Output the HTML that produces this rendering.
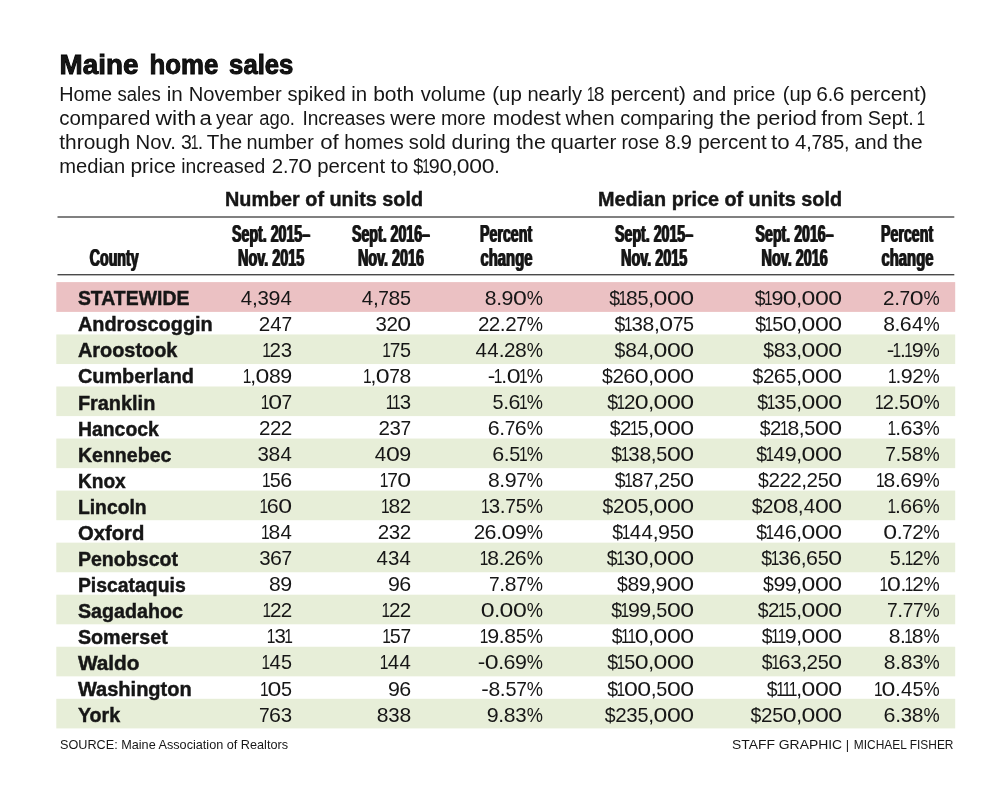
<!DOCTYPE html>
<html lang="en">
<head>
<meta charset="utf-8">
<title>Maine home sales</title>
<style>
html,body{margin:0;padding:0;background:#fff;}
body{width:1000px;height:797px;overflow:hidden;}
svg{display:block;}
svg text{font-family:"Liberation Sans",sans-serif;fill:#161616;white-space:pre;}
</style>
</head>
<body>
<svg width="1000" height="797" viewBox="0 0 1000 797" role="img" aria-label="Maine home sales table">
<defs><filter id="hb" x="-5%" y="-20%" width="110%" height="140%"><feOffset in="SourceGraphic" dx="0.5" dy="0" result="o"/><feMerge><feMergeNode in="SourceGraphic"/><feMergeNode in="o"/></feMerge></filter></defs>
<rect x="0" y="0" width="1000" height="797" fill="#ffffff"/>
<rect x="56.3" y="282.1" width="898.90" height="29.8" fill="#ebc1c3"/>
<rect x="56.3" y="334.45" width="898.90" height="29.6" fill="#e7eed8"/>
<rect x="56.3" y="386.5" width="898.90" height="29.6" fill="#e7eed8"/>
<rect x="56.3" y="438.55" width="898.90" height="29.6" fill="#e7eed8"/>
<rect x="56.3" y="490.6" width="898.90" height="29.6" fill="#e7eed8"/>
<rect x="56.3" y="542.65" width="898.90" height="29.6" fill="#e7eed8"/>
<rect x="56.3" y="594.7" width="898.90" height="29.6" fill="#e7eed8"/>
<rect x="56.3" y="646.75" width="898.90" height="29.6" fill="#e7eed8"/>
<rect x="56.3" y="698.8" width="898.90" height="29.6" fill="#e7eed8"/>
<rect x="57.5" y="216.3" width="896.80" height="1.4" fill="#4a4a4a"/>
<rect x="57.5" y="274" width="896.80" height="1.4" fill="#4a4a4a"/>
<text y="74.40" font-size="27" font-weight="700" fill="#000" stroke="#000" stroke-width="0.9"><tspan x="59.60" textLength="78.80" lengthAdjust="spacingAndGlyphs">Maine</tspan> <tspan x="149.60" textLength="68.80" lengthAdjust="spacingAndGlyphs">home</tspan> <tspan x="229.10" textLength="64.30" lengthAdjust="spacingAndGlyphs">sales</tspan></text>
<text y="101.30" font-size="19.6"><tspan x="59.20" textLength="52.90" lengthAdjust="spacingAndGlyphs">Home</tspan> <tspan x="117.50" textLength="43.30" lengthAdjust="spacingAndGlyphs">sales</tspan> <tspan x="166.70" textLength="16.10" lengthAdjust="spacingAndGlyphs">in</tspan> <tspan x="188.70" textLength="93.10" lengthAdjust="spacingAndGlyphs">November</tspan> <tspan x="287.50" textLength="58.30" lengthAdjust="spacingAndGlyphs">spiked</tspan> <tspan x="351.20" textLength="15.90" lengthAdjust="spacingAndGlyphs">in</tspan> <tspan x="373.20" textLength="40.90" lengthAdjust="spacingAndGlyphs">both</tspan> <tspan x="420.70" textLength="65.10" lengthAdjust="spacingAndGlyphs">volume</tspan> <tspan x="492.20" textLength="29.60" lengthAdjust="spacingAndGlyphs">(up</tspan> <tspan x="527.40" textLength="54.70" lengthAdjust="spacingAndGlyphs">nearly</tspan> <tspan x="586.90" textLength="7.47" lengthAdjust="spacingAndGlyphs">1</tspan><tspan x="593.65" textLength="10.74" lengthAdjust="spacingAndGlyphs">8</tspan> <tspan x="610.50" textLength="75.30" lengthAdjust="spacingAndGlyphs">percent)</tspan> <tspan x="692.50" textLength="33.60" lengthAdjust="spacingAndGlyphs">and</tspan> <tspan x="733.00" textLength="42.30" lengthAdjust="spacingAndGlyphs">price</tspan> <tspan x="782.70" textLength="29.10" lengthAdjust="spacingAndGlyphs">(up</tspan> <tspan x="816.29" textLength="11.64" lengthAdjust="spacingAndGlyphs">6</tspan><tspan x="827.73" textLength="5.45" lengthAdjust="spacingAndGlyphs">.</tspan><tspan x="832.83" textLength="11.64" lengthAdjust="spacingAndGlyphs">6</tspan> <tspan x="850.00" textLength="76.80" lengthAdjust="spacingAndGlyphs">percent)</tspan></text>
<text y="124.90" font-size="19.6"><tspan x="59.20" textLength="91.10" lengthAdjust="spacingAndGlyphs">compared</tspan> <tspan x="155.50" textLength="40.90" lengthAdjust="spacingAndGlyphs">with</tspan> <tspan x="199.50" textLength="12.30" lengthAdjust="spacingAndGlyphs">a</tspan> <tspan x="216.00" textLength="37.10" lengthAdjust="spacingAndGlyphs">year</tspan> <tspan x="259.20" textLength="35.80" lengthAdjust="spacingAndGlyphs">ago.</tspan> <tspan x="302.40" textLength="82.80" lengthAdjust="spacingAndGlyphs">Increases</tspan> <tspan x="390.20" textLength="45.80" lengthAdjust="spacingAndGlyphs">were</tspan> <tspan x="441.00" textLength="44.80" lengthAdjust="spacingAndGlyphs">more</tspan> <tspan x="492.70" textLength="68.10" lengthAdjust="spacingAndGlyphs">modest</tspan> <tspan x="565.50" textLength="49.10" lengthAdjust="spacingAndGlyphs">when</tspan> <tspan x="620.20" textLength="93.60" lengthAdjust="spacingAndGlyphs">comparing</tspan> <tspan x="719.50" textLength="31.30" lengthAdjust="spacingAndGlyphs">the</tspan> <tspan x="756.20" textLength="60.60" lengthAdjust="spacingAndGlyphs">period</tspan> <tspan x="821.20" textLength="41.60" lengthAdjust="spacingAndGlyphs">from</tspan> <tspan x="867.70" textLength="46.10" lengthAdjust="spacingAndGlyphs">Sept.</tspan> <tspan x="916.78" textLength="8.32" lengthAdjust="spacingAndGlyphs">1</tspan></text>
<text y="148.80" font-size="19.6"><tspan x="59.20" textLength="71.10" lengthAdjust="spacingAndGlyphs">through</tspan> <tspan x="135.50" textLength="40.30" lengthAdjust="spacingAndGlyphs">Nov.</tspan> <tspan x="181.11" textLength="10.86" lengthAdjust="spacingAndGlyphs">3</tspan><tspan x="190.82" textLength="7.75" lengthAdjust="spacingAndGlyphs">1</tspan><tspan x="197.83" textLength="5.45" lengthAdjust="spacingAndGlyphs">.</tspan> <tspan x="206.70" textLength="35.40" lengthAdjust="spacingAndGlyphs">The</tspan> <tspan x="246.40" textLength="67.40" lengthAdjust="spacingAndGlyphs">number</tspan> <tspan x="320.20" textLength="18.60" lengthAdjust="spacingAndGlyphs">of</tspan> <tspan x="344.20" textLength="59.60" lengthAdjust="spacingAndGlyphs">homes</tspan> <tspan x="408.80" textLength="37.00" lengthAdjust="spacingAndGlyphs">sold</tspan> <tspan x="451.60" textLength="59.00" lengthAdjust="spacingAndGlyphs">during</tspan> <tspan x="516.20" textLength="29.60" lengthAdjust="spacingAndGlyphs">the</tspan> <tspan x="550.80" textLength="65.60" lengthAdjust="spacingAndGlyphs">quarter</tspan> <tspan x="621.40" textLength="37.80" lengthAdjust="spacingAndGlyphs">rose</tspan> <tspan x="664.99" textLength="10.97" lengthAdjust="spacingAndGlyphs">8</tspan><tspan x="675.73" textLength="5.45" lengthAdjust="spacingAndGlyphs">.</tspan><tspan x="680.86" textLength="11.14" lengthAdjust="spacingAndGlyphs">9</tspan> <tspan x="698.20" textLength="68.60" lengthAdjust="spacingAndGlyphs">percent</tspan> <tspan x="771.00" textLength="18.60" lengthAdjust="spacingAndGlyphs">to</tspan> <tspan x="794.98" textLength="11.30" lengthAdjust="spacingAndGlyphs">4</tspan><tspan x="806.35" textLength="5.45" lengthAdjust="spacingAndGlyphs">,</tspan><tspan x="811.48" textLength="10.58" lengthAdjust="spacingAndGlyphs">7</tspan><tspan x="821.69" textLength="11.66" lengthAdjust="spacingAndGlyphs">8</tspan><tspan x="833.15" textLength="10.96" lengthAdjust="spacingAndGlyphs">5</tspan><tspan x="843.94" textLength="5.45" lengthAdjust="spacingAndGlyphs">,</tspan> <tspan x="854.50" textLength="33.30" lengthAdjust="spacingAndGlyphs">and</tspan> <tspan x="893.00" textLength="29.80" lengthAdjust="spacingAndGlyphs">the</tspan></text>
<text y="172.80" font-size="19.6"><tspan x="59.20" textLength="66.10" lengthAdjust="spacingAndGlyphs">median</tspan> <tspan x="130.50" textLength="45.30" lengthAdjust="spacingAndGlyphs">price</tspan> <tspan x="181.20" textLength="84.00" lengthAdjust="spacingAndGlyphs">increased</tspan> <tspan x="271.82" textLength="11.38" lengthAdjust="spacingAndGlyphs">2</tspan><tspan x="282.92" textLength="5.45" lengthAdjust="spacingAndGlyphs">.</tspan><tspan x="288.15" textLength="10.55" lengthAdjust="spacingAndGlyphs">7</tspan><tspan x="298.29" textLength="13.73" lengthAdjust="spacingAndGlyphs">0</tspan> <tspan x="317.20" textLength="67.90" lengthAdjust="spacingAndGlyphs">percent</tspan> <tspan x="390.50" textLength="17.80" lengthAdjust="spacingAndGlyphs">to</tspan> <tspan x="413.16" textLength="10.03" lengthAdjust="spacingAndGlyphs">$</tspan><tspan x="422.14" textLength="7.50" lengthAdjust="spacingAndGlyphs">1</tspan><tspan x="428.83" textLength="10.96" lengthAdjust="spacingAndGlyphs">9</tspan><tspan x="439.46" textLength="12.75" lengthAdjust="spacingAndGlyphs">0</tspan><tspan x="451.81" textLength="5.45" lengthAdjust="spacingAndGlyphs">,</tspan><tspan x="456.85" textLength="12.75" lengthAdjust="spacingAndGlyphs">0</tspan><tspan x="469.31" textLength="12.75" lengthAdjust="spacingAndGlyphs">0</tspan><tspan x="481.78" textLength="12.75" lengthAdjust="spacingAndGlyphs">0</tspan><tspan x="494.22" textLength="5.45" lengthAdjust="spacingAndGlyphs">.</tspan></text>
<text x="324.00" y="206.20" font-size="20.6" font-weight="700" text-anchor="middle" stroke="#161616" stroke-width="0.45" textLength="198.00" lengthAdjust="spacingAndGlyphs">Number of units sold</text>
<text x="720.00" y="206.20" font-size="20.6" font-weight="700" text-anchor="middle" stroke="#161616" stroke-width="0.45" textLength="244.00" lengthAdjust="spacingAndGlyphs">Median price of units sold</text>
<text x="113.70" y="265.70" font-size="23.2" font-weight="700" text-anchor="middle" stroke="#161616" stroke-width="0.2" filter="url(#hb)" textLength="48.82" lengthAdjust="spacingAndGlyphs">County</text>
<text x="270.60" y="242.20" font-size="23.2" font-weight="700" text-anchor="middle" stroke="#161616" stroke-width="0.2" filter="url(#hb)" textLength="78.02" lengthAdjust="spacingAndGlyphs">Sept. 2015–</text>
<text x="270.60" y="265.70" font-size="23.2" font-weight="700" text-anchor="middle" stroke="#161616" stroke-width="0.2" filter="url(#hb)" textLength="66.20" lengthAdjust="spacingAndGlyphs">Nov. 2015</text>
<text x="390.50" y="242.20" font-size="23.2" font-weight="700" text-anchor="middle" stroke="#161616" stroke-width="0.2" filter="url(#hb)" textLength="78.02" lengthAdjust="spacingAndGlyphs">Sept. 2016–</text>
<text x="390.50" y="265.70" font-size="23.2" font-weight="700" text-anchor="middle" stroke="#161616" stroke-width="0.2" filter="url(#hb)" textLength="66.20" lengthAdjust="spacingAndGlyphs">Nov. 2016</text>
<text x="505.60" y="242.20" font-size="23.2" font-weight="700" text-anchor="middle" stroke="#161616" stroke-width="0.2" filter="url(#hb)" textLength="52.01" lengthAdjust="spacingAndGlyphs">Percent</text>
<text x="506.00" y="265.70" font-size="23.2" font-weight="700" text-anchor="middle" stroke="#161616" stroke-width="0.2" filter="url(#hb)" textLength="51.87" lengthAdjust="spacingAndGlyphs">change</text>
<text x="653.60" y="242.20" font-size="23.2" font-weight="700" text-anchor="middle" stroke="#161616" stroke-width="0.2" filter="url(#hb)" textLength="78.02" lengthAdjust="spacingAndGlyphs">Sept. 2015–</text>
<text x="653.60" y="265.70" font-size="23.2" font-weight="700" text-anchor="middle" stroke="#161616" stroke-width="0.2" filter="url(#hb)" textLength="66.20" lengthAdjust="spacingAndGlyphs">Nov. 2015</text>
<text x="794.10" y="242.20" font-size="23.2" font-weight="700" text-anchor="middle" stroke="#161616" stroke-width="0.2" filter="url(#hb)" textLength="78.02" lengthAdjust="spacingAndGlyphs">Sept. 2016–</text>
<text x="794.10" y="265.70" font-size="23.2" font-weight="700" text-anchor="middle" stroke="#161616" stroke-width="0.2" filter="url(#hb)" textLength="66.20" lengthAdjust="spacingAndGlyphs">Nov. 2016</text>
<text x="906.60" y="242.20" font-size="23.2" font-weight="700" text-anchor="middle" stroke="#161616" stroke-width="0.2" filter="url(#hb)" textLength="52.01" lengthAdjust="spacingAndGlyphs">Percent</text>
<text x="907.00" y="265.70" font-size="23.2" font-weight="700" text-anchor="middle" stroke="#161616" stroke-width="0.2" filter="url(#hb)" textLength="51.87" lengthAdjust="spacingAndGlyphs">change</text>
<text x="77.90" y="305.30" font-size="20.8" font-weight="700" stroke="#161616" stroke-width="0.45" textLength="111.50" lengthAdjust="spacingAndGlyphs">STATEWIDE</text>
<text y="304.60" font-size="21.0"><tspan x="240.78" textLength="11.37" lengthAdjust="spacingAndGlyphs">4</tspan><tspan x="252.03" textLength="5.83" lengthAdjust="spacingAndGlyphs">,</tspan><tspan x="257.57" textLength="11.38" lengthAdjust="spacingAndGlyphs">3</tspan><tspan x="268.55" textLength="11.92" lengthAdjust="spacingAndGlyphs">9</tspan><tspan x="280.48" textLength="11.37" lengthAdjust="spacingAndGlyphs">4</tspan></text>
<text y="304.60" font-size="21.0"><tspan x="361.68" textLength="11.37" lengthAdjust="spacingAndGlyphs">4</tspan><tspan x="372.93" textLength="5.83" lengthAdjust="spacingAndGlyphs">,</tspan><tspan x="378.27" textLength="10.64" lengthAdjust="spacingAndGlyphs">7</tspan><tspan x="388.53" textLength="11.73" lengthAdjust="spacingAndGlyphs">8</tspan><tspan x="400.06" textLength="11.03" lengthAdjust="spacingAndGlyphs">5</tspan></text>
<text y="304.60" font-size="21.0"><tspan x="484.73" textLength="11.73" lengthAdjust="spacingAndGlyphs">8</tspan><tspan x="496.13" textLength="5.83" lengthAdjust="spacingAndGlyphs">.</tspan><tspan x="501.55" textLength="11.92" lengthAdjust="spacingAndGlyphs">9</tspan><tspan x="512.98" textLength="13.84" lengthAdjust="spacingAndGlyphs">0</tspan><tspan x="526.70" textLength="16.20" lengthAdjust="spacingAndGlyphs">%</tspan></text>
<text y="304.60" font-size="21.0"><tspan x="609.14" textLength="10.82" lengthAdjust="spacingAndGlyphs">$</tspan><tspan x="618.52" textLength="8.64" lengthAdjust="spacingAndGlyphs">1</tspan><tspan x="626.03" textLength="11.73" lengthAdjust="spacingAndGlyphs">8</tspan><tspan x="637.56" textLength="11.03" lengthAdjust="spacingAndGlyphs">5</tspan><tspan x="648.23" textLength="5.83" lengthAdjust="spacingAndGlyphs">,</tspan><tspan x="653.58" textLength="13.84" lengthAdjust="spacingAndGlyphs">0</tspan><tspan x="666.98" textLength="13.84" lengthAdjust="spacingAndGlyphs">0</tspan><tspan x="680.38" textLength="13.84" lengthAdjust="spacingAndGlyphs">0</tspan></text>
<text y="304.60" font-size="21.0"><tspan x="754.64" textLength="10.82" lengthAdjust="spacingAndGlyphs">$</tspan><tspan x="764.02" textLength="8.64" lengthAdjust="spacingAndGlyphs">1</tspan><tspan x="771.45" textLength="11.92" lengthAdjust="spacingAndGlyphs">9</tspan><tspan x="782.88" textLength="13.84" lengthAdjust="spacingAndGlyphs">0</tspan><tspan x="796.23" textLength="5.83" lengthAdjust="spacingAndGlyphs">,</tspan><tspan x="801.58" textLength="13.84" lengthAdjust="spacingAndGlyphs">0</tspan><tspan x="814.98" textLength="13.84" lengthAdjust="spacingAndGlyphs">0</tspan><tspan x="828.38" textLength="13.84" lengthAdjust="spacingAndGlyphs">0</tspan></text>
<text y="304.60" font-size="21.0"><tspan x="883.11" textLength="11.48" lengthAdjust="spacingAndGlyphs">2</tspan><tspan x="894.13" textLength="5.83" lengthAdjust="spacingAndGlyphs">.</tspan><tspan x="899.57" textLength="10.64" lengthAdjust="spacingAndGlyphs">7</tspan><tspan x="909.78" textLength="13.84" lengthAdjust="spacingAndGlyphs">0</tspan><tspan x="923.50" textLength="16.20" lengthAdjust="spacingAndGlyphs">%</tspan></text>
<text x="77.90" y="331.30" font-size="20.8" font-weight="700" stroke="#161616" stroke-width="0.45" textLength="134.88" lengthAdjust="spacingAndGlyphs">Androscoggin</text>
<text y="330.60" font-size="21.0"><tspan x="258.81" textLength="11.48" lengthAdjust="spacingAndGlyphs">2</tspan><tspan x="270.28" textLength="11.37" lengthAdjust="spacingAndGlyphs">4</tspan><tspan x="281.57" textLength="10.64" lengthAdjust="spacingAndGlyphs">7</tspan></text>
<text y="330.60" font-size="21.0"><tspan x="375.47" textLength="11.38" lengthAdjust="spacingAndGlyphs">3</tspan><tspan x="386.41" textLength="11.48" lengthAdjust="spacingAndGlyphs">2</tspan><tspan x="397.38" textLength="13.84" lengthAdjust="spacingAndGlyphs">0</tspan></text>
<text y="330.60" font-size="21.0"><tspan x="477.91" textLength="11.48" lengthAdjust="spacingAndGlyphs">2</tspan><tspan x="488.81" textLength="11.48" lengthAdjust="spacingAndGlyphs">2</tspan><tspan x="499.83" textLength="5.83" lengthAdjust="spacingAndGlyphs">.</tspan><tspan x="505.21" textLength="11.48" lengthAdjust="spacingAndGlyphs">2</tspan><tspan x="516.17" textLength="10.64" lengthAdjust="spacingAndGlyphs">7</tspan><tspan x="526.70" textLength="16.20" lengthAdjust="spacingAndGlyphs">%</tspan></text>
<text y="330.60" font-size="21.0"><tspan x="614.54" textLength="10.82" lengthAdjust="spacingAndGlyphs">$</tspan><tspan x="623.92" textLength="8.64" lengthAdjust="spacingAndGlyphs">1</tspan><tspan x="631.57" textLength="11.38" lengthAdjust="spacingAndGlyphs">3</tspan><tspan x="642.63" textLength="11.73" lengthAdjust="spacingAndGlyphs">8</tspan><tspan x="653.93" textLength="5.83" lengthAdjust="spacingAndGlyphs">,</tspan><tspan x="659.28" textLength="13.84" lengthAdjust="spacingAndGlyphs">0</tspan><tspan x="672.67" textLength="10.64" lengthAdjust="spacingAndGlyphs">7</tspan><tspan x="683.06" textLength="11.03" lengthAdjust="spacingAndGlyphs">5</tspan></text>
<text y="330.60" font-size="21.0"><tspan x="755.14" textLength="10.82" lengthAdjust="spacingAndGlyphs">$</tspan><tspan x="764.52" textLength="8.64" lengthAdjust="spacingAndGlyphs">1</tspan><tspan x="772.16" textLength="11.03" lengthAdjust="spacingAndGlyphs">5</tspan><tspan x="782.88" textLength="13.84" lengthAdjust="spacingAndGlyphs">0</tspan><tspan x="796.23" textLength="5.83" lengthAdjust="spacingAndGlyphs">,</tspan><tspan x="801.58" textLength="13.84" lengthAdjust="spacingAndGlyphs">0</tspan><tspan x="814.98" textLength="13.84" lengthAdjust="spacingAndGlyphs">0</tspan><tspan x="828.38" textLength="13.84" lengthAdjust="spacingAndGlyphs">0</tspan></text>
<text y="330.60" font-size="21.0"><tspan x="883.13" textLength="11.73" lengthAdjust="spacingAndGlyphs">8</tspan><tspan x="894.53" textLength="5.83" lengthAdjust="spacingAndGlyphs">.</tspan><tspan x="899.86" textLength="11.93" lengthAdjust="spacingAndGlyphs">6</tspan><tspan x="911.88" textLength="11.37" lengthAdjust="spacingAndGlyphs">4</tspan><tspan x="923.50" textLength="16.20" lengthAdjust="spacingAndGlyphs">%</tspan></text>
<text x="77.90" y="357.37" font-size="20.8" font-weight="700" stroke="#161616" stroke-width="0.45" textLength="99.51" lengthAdjust="spacingAndGlyphs">Aroostook</text>
<text y="356.67" font-size="21.0"><tspan x="262.22" textLength="8.64" lengthAdjust="spacingAndGlyphs">1</tspan><tspan x="269.61" textLength="11.48" lengthAdjust="spacingAndGlyphs">2</tspan><tspan x="280.77" textLength="11.38" lengthAdjust="spacingAndGlyphs">3</tspan></text>
<text y="356.67" font-size="21.0"><tspan x="382.22" textLength="8.64" lengthAdjust="spacingAndGlyphs">1</tspan><tspan x="389.67" textLength="10.64" lengthAdjust="spacingAndGlyphs">7</tspan><tspan x="400.06" textLength="11.03" lengthAdjust="spacingAndGlyphs">5</tspan></text>
<text y="356.67" font-size="21.0"><tspan x="475.48" textLength="11.37" lengthAdjust="spacingAndGlyphs">4</tspan><tspan x="487.28" textLength="11.37" lengthAdjust="spacingAndGlyphs">4</tspan><tspan x="498.63" textLength="5.83" lengthAdjust="spacingAndGlyphs">.</tspan><tspan x="504.01" textLength="11.48" lengthAdjust="spacingAndGlyphs">2</tspan><tspan x="515.03" textLength="11.73" lengthAdjust="spacingAndGlyphs">8</tspan><tspan x="526.70" textLength="16.20" lengthAdjust="spacingAndGlyphs">%</tspan></text>
<text y="356.67" font-size="21.0"><tspan x="614.54" textLength="10.82" lengthAdjust="spacingAndGlyphs">$</tspan><tspan x="625.13" textLength="11.73" lengthAdjust="spacingAndGlyphs">8</tspan><tspan x="636.98" textLength="11.37" lengthAdjust="spacingAndGlyphs">4</tspan><tspan x="648.23" textLength="5.83" lengthAdjust="spacingAndGlyphs">,</tspan><tspan x="653.58" textLength="13.84" lengthAdjust="spacingAndGlyphs">0</tspan><tspan x="666.98" textLength="13.84" lengthAdjust="spacingAndGlyphs">0</tspan><tspan x="680.38" textLength="13.84" lengthAdjust="spacingAndGlyphs">0</tspan></text>
<text y="356.67" font-size="21.0"><tspan x="763.14" textLength="10.82" lengthAdjust="spacingAndGlyphs">$</tspan><tspan x="773.73" textLength="11.73" lengthAdjust="spacingAndGlyphs">8</tspan><tspan x="785.27" textLength="11.38" lengthAdjust="spacingAndGlyphs">3</tspan><tspan x="796.23" textLength="5.83" lengthAdjust="spacingAndGlyphs">,</tspan><tspan x="801.58" textLength="13.84" lengthAdjust="spacingAndGlyphs">0</tspan><tspan x="814.98" textLength="13.84" lengthAdjust="spacingAndGlyphs">0</tspan><tspan x="828.38" textLength="13.84" lengthAdjust="spacingAndGlyphs">0</tspan></text>
<text y="356.67" font-size="21.0"><tspan x="886.65" textLength="7.50" lengthAdjust="spacingAndGlyphs">-</tspan><tspan x="892.52" textLength="8.64" lengthAdjust="spacingAndGlyphs">1</tspan><tspan x="900.03" textLength="5.83" lengthAdjust="spacingAndGlyphs">.</tspan><tspan x="904.32" textLength="8.64" lengthAdjust="spacingAndGlyphs">1</tspan><tspan x="911.75" textLength="11.92" lengthAdjust="spacingAndGlyphs">9</tspan><tspan x="923.50" textLength="16.20" lengthAdjust="spacingAndGlyphs">%</tspan></text>
<text x="77.90" y="383.43" font-size="20.8" font-weight="700" stroke="#161616" stroke-width="0.45" textLength="116.11" lengthAdjust="spacingAndGlyphs">Cumberland</text>
<text y="382.73" font-size="21.0"><tspan x="242.82" textLength="8.64" lengthAdjust="spacingAndGlyphs">1</tspan><tspan x="250.23" textLength="5.83" lengthAdjust="spacingAndGlyphs">,</tspan><tspan x="255.58" textLength="13.84" lengthAdjust="spacingAndGlyphs">0</tspan><tspan x="269.03" textLength="11.73" lengthAdjust="spacingAndGlyphs">8</tspan><tspan x="280.35" textLength="11.92" lengthAdjust="spacingAndGlyphs">9</tspan></text>
<text y="382.73" font-size="21.0"><tspan x="363.02" textLength="8.64" lengthAdjust="spacingAndGlyphs">1</tspan><tspan x="370.43" textLength="5.83" lengthAdjust="spacingAndGlyphs">,</tspan><tspan x="375.78" textLength="13.84" lengthAdjust="spacingAndGlyphs">0</tspan><tspan x="389.17" textLength="10.64" lengthAdjust="spacingAndGlyphs">7</tspan><tspan x="399.43" textLength="11.73" lengthAdjust="spacingAndGlyphs">8</tspan></text>
<text y="382.73" font-size="21.0"><tspan x="487.85" textLength="7.50" lengthAdjust="spacingAndGlyphs">-</tspan><tspan x="493.72" textLength="8.64" lengthAdjust="spacingAndGlyphs">1</tspan><tspan x="501.23" textLength="5.83" lengthAdjust="spacingAndGlyphs">.</tspan><tspan x="506.68" textLength="13.84" lengthAdjust="spacingAndGlyphs">0</tspan><tspan x="518.92" textLength="8.64" lengthAdjust="spacingAndGlyphs">1</tspan><tspan x="526.70" textLength="16.20" lengthAdjust="spacingAndGlyphs">%</tspan></text>
<text y="382.73" font-size="21.0"><tspan x="602.04" textLength="10.82" lengthAdjust="spacingAndGlyphs">$</tspan><tspan x="612.51" textLength="11.48" lengthAdjust="spacingAndGlyphs">2</tspan><tspan x="623.36" textLength="11.93" lengthAdjust="spacingAndGlyphs">6</tspan><tspan x="634.88" textLength="13.84" lengthAdjust="spacingAndGlyphs">0</tspan><tspan x="648.23" textLength="5.83" lengthAdjust="spacingAndGlyphs">,</tspan><tspan x="653.58" textLength="13.84" lengthAdjust="spacingAndGlyphs">0</tspan><tspan x="666.98" textLength="13.84" lengthAdjust="spacingAndGlyphs">0</tspan><tspan x="680.38" textLength="13.84" lengthAdjust="spacingAndGlyphs">0</tspan></text>
<text y="382.73" font-size="21.0"><tspan x="752.54" textLength="10.82" lengthAdjust="spacingAndGlyphs">$</tspan><tspan x="763.01" textLength="11.48" lengthAdjust="spacingAndGlyphs">2</tspan><tspan x="773.86" textLength="11.93" lengthAdjust="spacingAndGlyphs">6</tspan><tspan x="785.56" textLength="11.03" lengthAdjust="spacingAndGlyphs">5</tspan><tspan x="796.23" textLength="5.83" lengthAdjust="spacingAndGlyphs">,</tspan><tspan x="801.58" textLength="13.84" lengthAdjust="spacingAndGlyphs">0</tspan><tspan x="814.98" textLength="13.84" lengthAdjust="spacingAndGlyphs">0</tspan><tspan x="828.38" textLength="13.84" lengthAdjust="spacingAndGlyphs">0</tspan></text>
<text y="382.73" font-size="21.0"><tspan x="887.92" textLength="8.64" lengthAdjust="spacingAndGlyphs">1</tspan><tspan x="895.43" textLength="5.83" lengthAdjust="spacingAndGlyphs">.</tspan><tspan x="900.85" textLength="11.92" lengthAdjust="spacingAndGlyphs">9</tspan><tspan x="912.21" textLength="11.48" lengthAdjust="spacingAndGlyphs">2</tspan><tspan x="923.50" textLength="16.20" lengthAdjust="spacingAndGlyphs">%</tspan></text>
<text x="77.90" y="409.50" font-size="20.8" font-weight="700" stroke="#161616" stroke-width="0.45" textLength="77.41" lengthAdjust="spacingAndGlyphs">Franklin</text>
<text y="408.80" font-size="21.0"><tspan x="260.72" textLength="8.64" lengthAdjust="spacingAndGlyphs">1</tspan><tspan x="268.18" textLength="13.84" lengthAdjust="spacingAndGlyphs">0</tspan><tspan x="281.57" textLength="10.64" lengthAdjust="spacingAndGlyphs">7</tspan></text>
<text y="408.80" font-size="21.0"><tspan x="385.82" textLength="8.64" lengthAdjust="spacingAndGlyphs">1</tspan><tspan x="392.12" textLength="8.64" lengthAdjust="spacingAndGlyphs">1</tspan><tspan x="399.77" textLength="11.38" lengthAdjust="spacingAndGlyphs">3</tspan></text>
<text y="408.80" font-size="21.0"><tspan x="492.46" textLength="11.03" lengthAdjust="spacingAndGlyphs">5</tspan><tspan x="503.23" textLength="5.83" lengthAdjust="spacingAndGlyphs">.</tspan><tspan x="508.56" textLength="11.93" lengthAdjust="spacingAndGlyphs">6</tspan><tspan x="518.92" textLength="8.64" lengthAdjust="spacingAndGlyphs">1</tspan><tspan x="526.70" textLength="16.20" lengthAdjust="spacingAndGlyphs">%</tspan></text>
<text y="408.80" font-size="21.0"><tspan x="607.14" textLength="10.82" lengthAdjust="spacingAndGlyphs">$</tspan><tspan x="616.52" textLength="8.64" lengthAdjust="spacingAndGlyphs">1</tspan><tspan x="623.91" textLength="11.48" lengthAdjust="spacingAndGlyphs">2</tspan><tspan x="634.88" textLength="13.84" lengthAdjust="spacingAndGlyphs">0</tspan><tspan x="648.23" textLength="5.83" lengthAdjust="spacingAndGlyphs">,</tspan><tspan x="653.58" textLength="13.84" lengthAdjust="spacingAndGlyphs">0</tspan><tspan x="666.98" textLength="13.84" lengthAdjust="spacingAndGlyphs">0</tspan><tspan x="680.38" textLength="13.84" lengthAdjust="spacingAndGlyphs">0</tspan></text>
<text y="408.80" font-size="21.0"><tspan x="757.34" textLength="10.82" lengthAdjust="spacingAndGlyphs">$</tspan><tspan x="766.72" textLength="8.64" lengthAdjust="spacingAndGlyphs">1</tspan><tspan x="774.37" textLength="11.38" lengthAdjust="spacingAndGlyphs">3</tspan><tspan x="785.56" textLength="11.03" lengthAdjust="spacingAndGlyphs">5</tspan><tspan x="796.23" textLength="5.83" lengthAdjust="spacingAndGlyphs">,</tspan><tspan x="801.58" textLength="13.84" lengthAdjust="spacingAndGlyphs">0</tspan><tspan x="814.98" textLength="13.84" lengthAdjust="spacingAndGlyphs">0</tspan><tspan x="828.38" textLength="13.84" lengthAdjust="spacingAndGlyphs">0</tspan></text>
<text y="408.80" font-size="21.0"><tspan x="875.02" textLength="8.64" lengthAdjust="spacingAndGlyphs">1</tspan><tspan x="882.41" textLength="11.48" lengthAdjust="spacingAndGlyphs">2</tspan><tspan x="893.43" textLength="5.83" lengthAdjust="spacingAndGlyphs">.</tspan><tspan x="899.06" textLength="11.03" lengthAdjust="spacingAndGlyphs">5</tspan><tspan x="909.78" textLength="13.84" lengthAdjust="spacingAndGlyphs">0</tspan><tspan x="923.50" textLength="16.20" lengthAdjust="spacingAndGlyphs">%</tspan></text>
<text x="77.90" y="435.56" font-size="20.8" font-weight="700" stroke="#161616" stroke-width="0.45" textLength="80.96" lengthAdjust="spacingAndGlyphs">Hancock</text>
<text y="434.86" font-size="21.0"><tspan x="259.01" textLength="11.48" lengthAdjust="spacingAndGlyphs">2</tspan><tspan x="269.91" textLength="11.48" lengthAdjust="spacingAndGlyphs">2</tspan><tspan x="280.81" textLength="11.48" lengthAdjust="spacingAndGlyphs">2</tspan></text>
<text y="434.86" font-size="21.0"><tspan x="378.41" textLength="11.48" lengthAdjust="spacingAndGlyphs">2</tspan><tspan x="389.57" textLength="11.38" lengthAdjust="spacingAndGlyphs">3</tspan><tspan x="400.57" textLength="10.64" lengthAdjust="spacingAndGlyphs">7</tspan></text>
<text y="434.86" font-size="21.0"><tspan x="487.76" textLength="11.93" lengthAdjust="spacingAndGlyphs">6</tspan><tspan x="499.33" textLength="5.83" lengthAdjust="spacingAndGlyphs">.</tspan><tspan x="504.77" textLength="10.64" lengthAdjust="spacingAndGlyphs">7</tspan><tspan x="514.86" textLength="11.93" lengthAdjust="spacingAndGlyphs">6</tspan><tspan x="526.70" textLength="16.20" lengthAdjust="spacingAndGlyphs">%</tspan></text>
<text y="434.86" font-size="21.0"><tspan x="609.64" textLength="10.82" lengthAdjust="spacingAndGlyphs">$</tspan><tspan x="620.11" textLength="11.48" lengthAdjust="spacingAndGlyphs">2</tspan><tspan x="629.92" textLength="8.64" lengthAdjust="spacingAndGlyphs">1</tspan><tspan x="637.56" textLength="11.03" lengthAdjust="spacingAndGlyphs">5</tspan><tspan x="648.23" textLength="5.83" lengthAdjust="spacingAndGlyphs">,</tspan><tspan x="653.58" textLength="13.84" lengthAdjust="spacingAndGlyphs">0</tspan><tspan x="666.98" textLength="13.84" lengthAdjust="spacingAndGlyphs">0</tspan><tspan x="680.38" textLength="13.84" lengthAdjust="spacingAndGlyphs">0</tspan></text>
<text y="434.86" font-size="21.0"><tspan x="759.64" textLength="10.82" lengthAdjust="spacingAndGlyphs">$</tspan><tspan x="770.11" textLength="11.48" lengthAdjust="spacingAndGlyphs">2</tspan><tspan x="779.92" textLength="8.64" lengthAdjust="spacingAndGlyphs">1</tspan><tspan x="787.43" textLength="11.73" lengthAdjust="spacingAndGlyphs">8</tspan><tspan x="798.73" textLength="5.83" lengthAdjust="spacingAndGlyphs">,</tspan><tspan x="804.26" textLength="11.03" lengthAdjust="spacingAndGlyphs">5</tspan><tspan x="814.98" textLength="13.84" lengthAdjust="spacingAndGlyphs">0</tspan><tspan x="828.38" textLength="13.84" lengthAdjust="spacingAndGlyphs">0</tspan></text>
<text y="434.86" font-size="21.0"><tspan x="887.62" textLength="8.64" lengthAdjust="spacingAndGlyphs">1</tspan><tspan x="895.13" textLength="5.83" lengthAdjust="spacingAndGlyphs">.</tspan><tspan x="900.46" textLength="11.93" lengthAdjust="spacingAndGlyphs">6</tspan><tspan x="912.17" textLength="11.38" lengthAdjust="spacingAndGlyphs">3</tspan><tspan x="923.50" textLength="16.20" lengthAdjust="spacingAndGlyphs">%</tspan></text>
<text x="77.90" y="461.62" font-size="20.8" font-weight="700" stroke="#161616" stroke-width="0.45" textLength="93.52" lengthAdjust="spacingAndGlyphs">Kennebec</text>
<text y="460.93" font-size="21.0"><tspan x="257.57" textLength="11.38" lengthAdjust="spacingAndGlyphs">3</tspan><tspan x="268.63" textLength="11.73" lengthAdjust="spacingAndGlyphs">8</tspan><tspan x="280.48" textLength="11.37" lengthAdjust="spacingAndGlyphs">4</tspan></text>
<text y="460.93" font-size="21.0"><tspan x="374.68" textLength="11.37" lengthAdjust="spacingAndGlyphs">4</tspan><tspan x="385.98" textLength="13.84" lengthAdjust="spacingAndGlyphs">0</tspan><tspan x="399.35" textLength="11.92" lengthAdjust="spacingAndGlyphs">9</tspan></text>
<text y="460.93" font-size="21.0"><tspan x="492.16" textLength="11.93" lengthAdjust="spacingAndGlyphs">6</tspan><tspan x="503.73" textLength="5.83" lengthAdjust="spacingAndGlyphs">.</tspan><tspan x="509.36" textLength="11.03" lengthAdjust="spacingAndGlyphs">5</tspan><tspan x="518.92" textLength="8.64" lengthAdjust="spacingAndGlyphs">1</tspan><tspan x="526.70" textLength="16.20" lengthAdjust="spacingAndGlyphs">%</tspan></text>
<text y="460.93" font-size="21.0"><tspan x="611.34" textLength="10.82" lengthAdjust="spacingAndGlyphs">$</tspan><tspan x="620.72" textLength="8.64" lengthAdjust="spacingAndGlyphs">1</tspan><tspan x="628.37" textLength="11.38" lengthAdjust="spacingAndGlyphs">3</tspan><tspan x="639.43" textLength="11.73" lengthAdjust="spacingAndGlyphs">8</tspan><tspan x="650.73" textLength="5.83" lengthAdjust="spacingAndGlyphs">,</tspan><tspan x="656.26" textLength="11.03" lengthAdjust="spacingAndGlyphs">5</tspan><tspan x="666.98" textLength="13.84" lengthAdjust="spacingAndGlyphs">0</tspan><tspan x="680.38" textLength="13.84" lengthAdjust="spacingAndGlyphs">0</tspan></text>
<text y="460.93" font-size="21.0"><tspan x="756.24" textLength="10.82" lengthAdjust="spacingAndGlyphs">$</tspan><tspan x="765.62" textLength="8.64" lengthAdjust="spacingAndGlyphs">1</tspan><tspan x="773.58" textLength="11.37" lengthAdjust="spacingAndGlyphs">4</tspan><tspan x="784.85" textLength="11.92" lengthAdjust="spacingAndGlyphs">9</tspan><tspan x="796.23" textLength="5.83" lengthAdjust="spacingAndGlyphs">,</tspan><tspan x="801.58" textLength="13.84" lengthAdjust="spacingAndGlyphs">0</tspan><tspan x="814.98" textLength="13.84" lengthAdjust="spacingAndGlyphs">0</tspan><tspan x="828.38" textLength="13.84" lengthAdjust="spacingAndGlyphs">0</tspan></text>
<text y="460.93" font-size="21.0"><tspan x="885.17" textLength="10.64" lengthAdjust="spacingAndGlyphs">7</tspan><tspan x="895.43" textLength="5.83" lengthAdjust="spacingAndGlyphs">.</tspan><tspan x="901.06" textLength="11.03" lengthAdjust="spacingAndGlyphs">5</tspan><tspan x="911.83" textLength="11.73" lengthAdjust="spacingAndGlyphs">8</tspan><tspan x="923.50" textLength="16.20" lengthAdjust="spacingAndGlyphs">%</tspan></text>
<text x="77.90" y="487.69" font-size="20.8" font-weight="700" stroke="#161616" stroke-width="0.45" textLength="47.86" lengthAdjust="spacingAndGlyphs">Knox</text>
<text y="486.99" font-size="21.0"><tspan x="262.02" textLength="8.64" lengthAdjust="spacingAndGlyphs">1</tspan><tspan x="269.66" textLength="11.03" lengthAdjust="spacingAndGlyphs">5</tspan><tspan x="280.26" textLength="11.93" lengthAdjust="spacingAndGlyphs">6</tspan></text>
<text y="486.99" font-size="21.0"><tspan x="379.72" textLength="8.64" lengthAdjust="spacingAndGlyphs">1</tspan><tspan x="387.17" textLength="10.64" lengthAdjust="spacingAndGlyphs">7</tspan><tspan x="397.38" textLength="13.84" lengthAdjust="spacingAndGlyphs">0</tspan></text>
<text y="486.99" font-size="21.0"><tspan x="487.93" textLength="11.73" lengthAdjust="spacingAndGlyphs">8</tspan><tspan x="499.33" textLength="5.83" lengthAdjust="spacingAndGlyphs">.</tspan><tspan x="504.75" textLength="11.92" lengthAdjust="spacingAndGlyphs">9</tspan><tspan x="516.17" textLength="10.64" lengthAdjust="spacingAndGlyphs">7</tspan><tspan x="526.70" textLength="16.20" lengthAdjust="spacingAndGlyphs">%</tspan></text>
<text y="486.99" font-size="21.0"><tspan x="614.84" textLength="10.82" lengthAdjust="spacingAndGlyphs">$</tspan><tspan x="624.22" textLength="8.64" lengthAdjust="spacingAndGlyphs">1</tspan><tspan x="631.73" textLength="11.73" lengthAdjust="spacingAndGlyphs">8</tspan><tspan x="643.07" textLength="10.64" lengthAdjust="spacingAndGlyphs">7</tspan><tspan x="653.23" textLength="5.83" lengthAdjust="spacingAndGlyphs">,</tspan><tspan x="658.51" textLength="11.48" lengthAdjust="spacingAndGlyphs">2</tspan><tspan x="669.66" textLength="11.03" lengthAdjust="spacingAndGlyphs">5</tspan><tspan x="680.38" textLength="13.84" lengthAdjust="spacingAndGlyphs">0</tspan></text>
<text y="486.99" font-size="21.0"><tspan x="758.04" textLength="10.82" lengthAdjust="spacingAndGlyphs">$</tspan><tspan x="768.51" textLength="11.48" lengthAdjust="spacingAndGlyphs">2</tspan><tspan x="779.41" textLength="11.48" lengthAdjust="spacingAndGlyphs">2</tspan><tspan x="790.31" textLength="11.48" lengthAdjust="spacingAndGlyphs">2</tspan><tspan x="801.23" textLength="5.83" lengthAdjust="spacingAndGlyphs">,</tspan><tspan x="806.51" textLength="11.48" lengthAdjust="spacingAndGlyphs">2</tspan><tspan x="817.66" textLength="11.03" lengthAdjust="spacingAndGlyphs">5</tspan><tspan x="828.38" textLength="13.84" lengthAdjust="spacingAndGlyphs">0</tspan></text>
<text y="486.99" font-size="21.0"><tspan x="876.02" textLength="8.64" lengthAdjust="spacingAndGlyphs">1</tspan><tspan x="883.53" textLength="11.73" lengthAdjust="spacingAndGlyphs">8</tspan><tspan x="894.93" textLength="5.83" lengthAdjust="spacingAndGlyphs">.</tspan><tspan x="900.26" textLength="11.93" lengthAdjust="spacingAndGlyphs">6</tspan><tspan x="911.75" textLength="11.92" lengthAdjust="spacingAndGlyphs">9</tspan><tspan x="923.50" textLength="16.20" lengthAdjust="spacingAndGlyphs">%</tspan></text>
<text x="77.90" y="513.75" font-size="20.8" font-weight="700" stroke="#161616" stroke-width="0.45" textLength="68.76" lengthAdjust="spacingAndGlyphs">Lincoln</text>
<text y="513.05" font-size="21.0"><tspan x="259.52" textLength="8.64" lengthAdjust="spacingAndGlyphs">1</tspan><tspan x="266.86" textLength="11.93" lengthAdjust="spacingAndGlyphs">6</tspan><tspan x="278.38" textLength="13.84" lengthAdjust="spacingAndGlyphs">0</tspan></text>
<text y="513.05" font-size="21.0"><tspan x="381.02" textLength="8.64" lengthAdjust="spacingAndGlyphs">1</tspan><tspan x="388.53" textLength="11.73" lengthAdjust="spacingAndGlyphs">8</tspan><tspan x="399.81" textLength="11.48" lengthAdjust="spacingAndGlyphs">2</tspan></text>
<text y="513.05" font-size="21.0"><tspan x="481.12" textLength="8.64" lengthAdjust="spacingAndGlyphs">1</tspan><tspan x="488.77" textLength="11.38" lengthAdjust="spacingAndGlyphs">3</tspan><tspan x="499.83" textLength="5.83" lengthAdjust="spacingAndGlyphs">.</tspan><tspan x="505.27" textLength="10.64" lengthAdjust="spacingAndGlyphs">7</tspan><tspan x="515.66" textLength="11.03" lengthAdjust="spacingAndGlyphs">5</tspan><tspan x="526.70" textLength="16.20" lengthAdjust="spacingAndGlyphs">%</tspan></text>
<text y="513.05" font-size="21.0"><tspan x="602.54" textLength="10.82" lengthAdjust="spacingAndGlyphs">$</tspan><tspan x="613.01" textLength="11.48" lengthAdjust="spacingAndGlyphs">2</tspan><tspan x="623.98" textLength="13.84" lengthAdjust="spacingAndGlyphs">0</tspan><tspan x="637.56" textLength="11.03" lengthAdjust="spacingAndGlyphs">5</tspan><tspan x="648.23" textLength="5.83" lengthAdjust="spacingAndGlyphs">,</tspan><tspan x="653.58" textLength="13.84" lengthAdjust="spacingAndGlyphs">0</tspan><tspan x="666.98" textLength="13.84" lengthAdjust="spacingAndGlyphs">0</tspan><tspan x="680.38" textLength="13.84" lengthAdjust="spacingAndGlyphs">0</tspan></text>
<text y="513.05" font-size="21.0"><tspan x="751.64" textLength="10.82" lengthAdjust="spacingAndGlyphs">$</tspan><tspan x="762.11" textLength="11.48" lengthAdjust="spacingAndGlyphs">2</tspan><tspan x="773.08" textLength="13.84" lengthAdjust="spacingAndGlyphs">0</tspan><tspan x="786.53" textLength="11.73" lengthAdjust="spacingAndGlyphs">8</tspan><tspan x="797.83" textLength="5.83" lengthAdjust="spacingAndGlyphs">,</tspan><tspan x="803.68" textLength="11.37" lengthAdjust="spacingAndGlyphs">4</tspan><tspan x="814.98" textLength="13.84" lengthAdjust="spacingAndGlyphs">0</tspan><tspan x="828.38" textLength="13.84" lengthAdjust="spacingAndGlyphs">0</tspan></text>
<text y="513.05" font-size="21.0"><tspan x="887.42" textLength="8.64" lengthAdjust="spacingAndGlyphs">1</tspan><tspan x="894.93" textLength="5.83" lengthAdjust="spacingAndGlyphs">.</tspan><tspan x="900.26" textLength="11.93" lengthAdjust="spacingAndGlyphs">6</tspan><tspan x="911.66" textLength="11.93" lengthAdjust="spacingAndGlyphs">6</tspan><tspan x="923.50" textLength="16.20" lengthAdjust="spacingAndGlyphs">%</tspan></text>
<text x="77.90" y="539.82" font-size="20.8" font-weight="700" stroke="#161616" stroke-width="0.45" textLength="66.44" lengthAdjust="spacingAndGlyphs">Oxford</text>
<text y="539.12" font-size="21.0"><tspan x="261.12" textLength="8.64" lengthAdjust="spacingAndGlyphs">1</tspan><tspan x="268.63" textLength="11.73" lengthAdjust="spacingAndGlyphs">8</tspan><tspan x="280.48" textLength="11.37" lengthAdjust="spacingAndGlyphs">4</tspan></text>
<text y="539.12" font-size="21.0"><tspan x="377.71" textLength="11.48" lengthAdjust="spacingAndGlyphs">2</tspan><tspan x="388.87" textLength="11.38" lengthAdjust="spacingAndGlyphs">3</tspan><tspan x="399.81" textLength="11.48" lengthAdjust="spacingAndGlyphs">2</tspan></text>
<text y="539.12" font-size="21.0"><tspan x="473.71" textLength="11.48" lengthAdjust="spacingAndGlyphs">2</tspan><tspan x="484.56" textLength="11.93" lengthAdjust="spacingAndGlyphs">6</tspan><tspan x="496.13" textLength="5.83" lengthAdjust="spacingAndGlyphs">.</tspan><tspan x="501.58" textLength="13.84" lengthAdjust="spacingAndGlyphs">0</tspan><tspan x="514.95" textLength="11.92" lengthAdjust="spacingAndGlyphs">9</tspan><tspan x="526.70" textLength="16.20" lengthAdjust="spacingAndGlyphs">%</tspan></text>
<text y="539.12" font-size="21.0"><tspan x="612.34" textLength="10.82" lengthAdjust="spacingAndGlyphs">$</tspan><tspan x="621.72" textLength="8.64" lengthAdjust="spacingAndGlyphs">1</tspan><tspan x="629.68" textLength="11.37" lengthAdjust="spacingAndGlyphs">4</tspan><tspan x="641.48" textLength="11.37" lengthAdjust="spacingAndGlyphs">4</tspan><tspan x="652.73" textLength="5.83" lengthAdjust="spacingAndGlyphs">,</tspan><tspan x="658.05" textLength="11.92" lengthAdjust="spacingAndGlyphs">9</tspan><tspan x="669.66" textLength="11.03" lengthAdjust="spacingAndGlyphs">5</tspan><tspan x="680.38" textLength="13.84" lengthAdjust="spacingAndGlyphs">0</tspan></text>
<text y="539.12" font-size="21.0"><tspan x="756.24" textLength="10.82" lengthAdjust="spacingAndGlyphs">$</tspan><tspan x="765.62" textLength="8.64" lengthAdjust="spacingAndGlyphs">1</tspan><tspan x="773.58" textLength="11.37" lengthAdjust="spacingAndGlyphs">4</tspan><tspan x="784.76" textLength="11.93" lengthAdjust="spacingAndGlyphs">6</tspan><tspan x="796.23" textLength="5.83" lengthAdjust="spacingAndGlyphs">,</tspan><tspan x="801.58" textLength="13.84" lengthAdjust="spacingAndGlyphs">0</tspan><tspan x="814.98" textLength="13.84" lengthAdjust="spacingAndGlyphs">0</tspan><tspan x="828.38" textLength="13.84" lengthAdjust="spacingAndGlyphs">0</tspan></text>
<text y="539.12" font-size="21.0"><tspan x="883.18" textLength="13.84" lengthAdjust="spacingAndGlyphs">0</tspan><tspan x="896.63" textLength="5.83" lengthAdjust="spacingAndGlyphs">.</tspan><tspan x="902.07" textLength="10.64" lengthAdjust="spacingAndGlyphs">7</tspan><tspan x="912.21" textLength="11.48" lengthAdjust="spacingAndGlyphs">2</tspan><tspan x="923.50" textLength="16.20" lengthAdjust="spacingAndGlyphs">%</tspan></text>
<text x="77.90" y="565.88" font-size="20.8" font-weight="700" stroke="#161616" stroke-width="0.45" textLength="100.14" lengthAdjust="spacingAndGlyphs">Penobscot</text>
<text y="565.18" font-size="21.0"><tspan x="259.17" textLength="11.38" lengthAdjust="spacingAndGlyphs">3</tspan><tspan x="270.06" textLength="11.93" lengthAdjust="spacingAndGlyphs">6</tspan><tspan x="281.57" textLength="10.64" lengthAdjust="spacingAndGlyphs">7</tspan></text>
<text y="565.18" font-size="21.0"><tspan x="376.48" textLength="11.37" lengthAdjust="spacingAndGlyphs">4</tspan><tspan x="387.97" textLength="11.38" lengthAdjust="spacingAndGlyphs">3</tspan><tspan x="399.48" textLength="11.37" lengthAdjust="spacingAndGlyphs">4</tspan></text>
<text y="565.18" font-size="21.0"><tspan x="479.72" textLength="8.64" lengthAdjust="spacingAndGlyphs">1</tspan><tspan x="487.23" textLength="11.73" lengthAdjust="spacingAndGlyphs">8</tspan><tspan x="498.63" textLength="5.83" lengthAdjust="spacingAndGlyphs">.</tspan><tspan x="504.01" textLength="11.48" lengthAdjust="spacingAndGlyphs">2</tspan><tspan x="514.86" textLength="11.93" lengthAdjust="spacingAndGlyphs">6</tspan><tspan x="526.70" textLength="16.20" lengthAdjust="spacingAndGlyphs">%</tspan></text>
<text y="565.18" font-size="21.0"><tspan x="606.84" textLength="10.82" lengthAdjust="spacingAndGlyphs">$</tspan><tspan x="616.22" textLength="8.64" lengthAdjust="spacingAndGlyphs">1</tspan><tspan x="623.87" textLength="11.38" lengthAdjust="spacingAndGlyphs">3</tspan><tspan x="634.88" textLength="13.84" lengthAdjust="spacingAndGlyphs">0</tspan><tspan x="648.23" textLength="5.83" lengthAdjust="spacingAndGlyphs">,</tspan><tspan x="653.58" textLength="13.84" lengthAdjust="spacingAndGlyphs">0</tspan><tspan x="666.98" textLength="13.84" lengthAdjust="spacingAndGlyphs">0</tspan><tspan x="680.38" textLength="13.84" lengthAdjust="spacingAndGlyphs">0</tspan></text>
<text y="565.18" font-size="21.0"><tspan x="761.34" textLength="10.82" lengthAdjust="spacingAndGlyphs">$</tspan><tspan x="770.72" textLength="8.64" lengthAdjust="spacingAndGlyphs">1</tspan><tspan x="778.37" textLength="11.38" lengthAdjust="spacingAndGlyphs">3</tspan><tspan x="789.26" textLength="11.93" lengthAdjust="spacingAndGlyphs">6</tspan><tspan x="800.73" textLength="5.83" lengthAdjust="spacingAndGlyphs">,</tspan><tspan x="805.96" textLength="11.93" lengthAdjust="spacingAndGlyphs">6</tspan><tspan x="817.66" textLength="11.03" lengthAdjust="spacingAndGlyphs">5</tspan><tspan x="828.38" textLength="13.84" lengthAdjust="spacingAndGlyphs">0</tspan></text>
<text y="565.18" font-size="21.0"><tspan x="889.76" textLength="11.03" lengthAdjust="spacingAndGlyphs">5</tspan><tspan x="900.53" textLength="5.83" lengthAdjust="spacingAndGlyphs">.</tspan><tspan x="904.82" textLength="8.64" lengthAdjust="spacingAndGlyphs">1</tspan><tspan x="912.21" textLength="11.48" lengthAdjust="spacingAndGlyphs">2</tspan><tspan x="923.50" textLength="16.20" lengthAdjust="spacingAndGlyphs">%</tspan></text>
<text x="77.90" y="591.95" font-size="20.8" font-weight="700" stroke="#161616" stroke-width="0.45" textLength="107.82" lengthAdjust="spacingAndGlyphs">Piscataquis</text>
<text y="591.25" font-size="21.0"><tspan x="269.03" textLength="11.73" lengthAdjust="spacingAndGlyphs">8</tspan><tspan x="280.35" textLength="11.92" lengthAdjust="spacingAndGlyphs">9</tspan></text>
<text y="591.25" font-size="21.0"><tspan x="387.95" textLength="11.92" lengthAdjust="spacingAndGlyphs">9</tspan><tspan x="399.26" textLength="11.93" lengthAdjust="spacingAndGlyphs">6</tspan></text>
<text y="591.25" font-size="21.0"><tspan x="489.07" textLength="10.64" lengthAdjust="spacingAndGlyphs">7</tspan><tspan x="499.33" textLength="5.83" lengthAdjust="spacingAndGlyphs">.</tspan><tspan x="504.83" textLength="11.73" lengthAdjust="spacingAndGlyphs">8</tspan><tspan x="516.17" textLength="10.64" lengthAdjust="spacingAndGlyphs">7</tspan><tspan x="526.70" textLength="16.20" lengthAdjust="spacingAndGlyphs">%</tspan></text>
<text y="591.25" font-size="21.0"><tspan x="616.94" textLength="10.82" lengthAdjust="spacingAndGlyphs">$</tspan><tspan x="627.53" textLength="11.73" lengthAdjust="spacingAndGlyphs">8</tspan><tspan x="638.85" textLength="11.92" lengthAdjust="spacingAndGlyphs">9</tspan><tspan x="650.23" textLength="5.83" lengthAdjust="spacingAndGlyphs">,</tspan><tspan x="655.55" textLength="11.92" lengthAdjust="spacingAndGlyphs">9</tspan><tspan x="666.98" textLength="13.84" lengthAdjust="spacingAndGlyphs">0</tspan><tspan x="680.38" textLength="13.84" lengthAdjust="spacingAndGlyphs">0</tspan></text>
<text y="591.25" font-size="21.0"><tspan x="762.94" textLength="10.82" lengthAdjust="spacingAndGlyphs">$</tspan><tspan x="773.45" textLength="11.92" lengthAdjust="spacingAndGlyphs">9</tspan><tspan x="784.85" textLength="11.92" lengthAdjust="spacingAndGlyphs">9</tspan><tspan x="796.23" textLength="5.83" lengthAdjust="spacingAndGlyphs">,</tspan><tspan x="801.58" textLength="13.84" lengthAdjust="spacingAndGlyphs">0</tspan><tspan x="814.98" textLength="13.84" lengthAdjust="spacingAndGlyphs">0</tspan><tspan x="828.38" textLength="13.84" lengthAdjust="spacingAndGlyphs">0</tspan></text>
<text y="591.25" font-size="21.0"><tspan x="879.62" textLength="8.64" lengthAdjust="spacingAndGlyphs">1</tspan><tspan x="887.08" textLength="13.84" lengthAdjust="spacingAndGlyphs">0</tspan><tspan x="900.53" textLength="5.83" lengthAdjust="spacingAndGlyphs">.</tspan><tspan x="904.82" textLength="8.64" lengthAdjust="spacingAndGlyphs">1</tspan><tspan x="912.21" textLength="11.48" lengthAdjust="spacingAndGlyphs">2</tspan><tspan x="923.50" textLength="16.20" lengthAdjust="spacingAndGlyphs">%</tspan></text>
<text x="77.90" y="618.02" font-size="20.8" font-weight="700" stroke="#161616" stroke-width="0.45" textLength="104.98" lengthAdjust="spacingAndGlyphs">Sagadahoc</text>
<text y="617.32" font-size="21.0"><tspan x="262.52" textLength="8.64" lengthAdjust="spacingAndGlyphs">1</tspan><tspan x="269.91" textLength="11.48" lengthAdjust="spacingAndGlyphs">2</tspan><tspan x="280.81" textLength="11.48" lengthAdjust="spacingAndGlyphs">2</tspan></text>
<text y="617.32" font-size="21.0"><tspan x="381.52" textLength="8.64" lengthAdjust="spacingAndGlyphs">1</tspan><tspan x="388.91" textLength="11.48" lengthAdjust="spacingAndGlyphs">2</tspan><tspan x="399.81" textLength="11.48" lengthAdjust="spacingAndGlyphs">2</tspan></text>
<text y="617.32" font-size="21.0"><tspan x="480.68" textLength="13.84" lengthAdjust="spacingAndGlyphs">0</tspan><tspan x="494.13" textLength="5.83" lengthAdjust="spacingAndGlyphs">.</tspan><tspan x="499.58" textLength="13.84" lengthAdjust="spacingAndGlyphs">0</tspan><tspan x="512.98" textLength="13.84" lengthAdjust="spacingAndGlyphs">0</tspan><tspan x="526.70" textLength="16.20" lengthAdjust="spacingAndGlyphs">%</tspan></text>
<text y="617.32" font-size="21.0"><tspan x="611.14" textLength="10.82" lengthAdjust="spacingAndGlyphs">$</tspan><tspan x="620.52" textLength="8.64" lengthAdjust="spacingAndGlyphs">1</tspan><tspan x="627.95" textLength="11.92" lengthAdjust="spacingAndGlyphs">9</tspan><tspan x="639.35" textLength="11.92" lengthAdjust="spacingAndGlyphs">9</tspan><tspan x="650.73" textLength="5.83" lengthAdjust="spacingAndGlyphs">,</tspan><tspan x="656.26" textLength="11.03" lengthAdjust="spacingAndGlyphs">5</tspan><tspan x="666.98" textLength="13.84" lengthAdjust="spacingAndGlyphs">0</tspan><tspan x="680.38" textLength="13.84" lengthAdjust="spacingAndGlyphs">0</tspan></text>
<text y="617.32" font-size="21.0"><tspan x="757.64" textLength="10.82" lengthAdjust="spacingAndGlyphs">$</tspan><tspan x="768.11" textLength="11.48" lengthAdjust="spacingAndGlyphs">2</tspan><tspan x="777.92" textLength="8.64" lengthAdjust="spacingAndGlyphs">1</tspan><tspan x="785.56" textLength="11.03" lengthAdjust="spacingAndGlyphs">5</tspan><tspan x="796.23" textLength="5.83" lengthAdjust="spacingAndGlyphs">,</tspan><tspan x="801.58" textLength="13.84" lengthAdjust="spacingAndGlyphs">0</tspan><tspan x="814.98" textLength="13.84" lengthAdjust="spacingAndGlyphs">0</tspan><tspan x="828.38" textLength="13.84" lengthAdjust="spacingAndGlyphs">0</tspan></text>
<text y="617.32" font-size="21.0"><tspan x="887.07" textLength="10.64" lengthAdjust="spacingAndGlyphs">7</tspan><tspan x="897.33" textLength="5.83" lengthAdjust="spacingAndGlyphs">.</tspan><tspan x="902.77" textLength="10.64" lengthAdjust="spacingAndGlyphs">7</tspan><tspan x="912.97" textLength="10.64" lengthAdjust="spacingAndGlyphs">7</tspan><tspan x="923.50" textLength="16.20" lengthAdjust="spacingAndGlyphs">%</tspan></text>
<text x="77.90" y="644.08" font-size="20.8" font-weight="700" stroke="#161616" stroke-width="0.45" textLength="89.91" lengthAdjust="spacingAndGlyphs">Somerset</text>
<text y="643.38" font-size="21.0"><tspan x="266.82" textLength="8.64" lengthAdjust="spacingAndGlyphs">1</tspan><tspan x="274.47" textLength="11.38" lengthAdjust="spacingAndGlyphs">3</tspan><tspan x="284.32" textLength="8.64" lengthAdjust="spacingAndGlyphs">1</tspan></text>
<text y="643.38" font-size="21.0"><tspan x="382.22" textLength="8.64" lengthAdjust="spacingAndGlyphs">1</tspan><tspan x="389.86" textLength="11.03" lengthAdjust="spacingAndGlyphs">5</tspan><tspan x="400.57" textLength="10.64" lengthAdjust="spacingAndGlyphs">7</tspan></text>
<text y="643.38" font-size="21.0"><tspan x="479.72" textLength="8.64" lengthAdjust="spacingAndGlyphs">1</tspan><tspan x="487.15" textLength="11.92" lengthAdjust="spacingAndGlyphs">9</tspan><tspan x="498.63" textLength="5.83" lengthAdjust="spacingAndGlyphs">.</tspan><tspan x="504.13" textLength="11.73" lengthAdjust="spacingAndGlyphs">8</tspan><tspan x="515.66" textLength="11.03" lengthAdjust="spacingAndGlyphs">5</tspan><tspan x="526.70" textLength="16.20" lengthAdjust="spacingAndGlyphs">%</tspan></text>
<text y="643.38" font-size="21.0"><tspan x="611.74" textLength="10.82" lengthAdjust="spacingAndGlyphs">$</tspan><tspan x="621.12" textLength="8.64" lengthAdjust="spacingAndGlyphs">1</tspan><tspan x="627.42" textLength="8.64" lengthAdjust="spacingAndGlyphs">1</tspan><tspan x="634.88" textLength="13.84" lengthAdjust="spacingAndGlyphs">0</tspan><tspan x="648.23" textLength="5.83" lengthAdjust="spacingAndGlyphs">,</tspan><tspan x="653.58" textLength="13.84" lengthAdjust="spacingAndGlyphs">0</tspan><tspan x="666.98" textLength="13.84" lengthAdjust="spacingAndGlyphs">0</tspan><tspan x="680.38" textLength="13.84" lengthAdjust="spacingAndGlyphs">0</tspan></text>
<text y="643.38" font-size="21.0"><tspan x="761.74" textLength="10.82" lengthAdjust="spacingAndGlyphs">$</tspan><tspan x="771.12" textLength="8.64" lengthAdjust="spacingAndGlyphs">1</tspan><tspan x="777.42" textLength="8.64" lengthAdjust="spacingAndGlyphs">1</tspan><tspan x="784.85" textLength="11.92" lengthAdjust="spacingAndGlyphs">9</tspan><tspan x="796.23" textLength="5.83" lengthAdjust="spacingAndGlyphs">,</tspan><tspan x="801.58" textLength="13.84" lengthAdjust="spacingAndGlyphs">0</tspan><tspan x="814.98" textLength="13.84" lengthAdjust="spacingAndGlyphs">0</tspan><tspan x="828.38" textLength="13.84" lengthAdjust="spacingAndGlyphs">0</tspan></text>
<text y="643.38" font-size="21.0"><tspan x="888.63" textLength="11.73" lengthAdjust="spacingAndGlyphs">8</tspan><tspan x="900.03" textLength="5.83" lengthAdjust="spacingAndGlyphs">.</tspan><tspan x="904.32" textLength="8.64" lengthAdjust="spacingAndGlyphs">1</tspan><tspan x="911.83" textLength="11.73" lengthAdjust="spacingAndGlyphs">8</tspan><tspan x="923.50" textLength="16.20" lengthAdjust="spacingAndGlyphs">%</tspan></text>
<text x="77.90" y="670.14" font-size="20.8" font-weight="700" stroke="#161616" stroke-width="0.45" textLength="61.60" lengthAdjust="spacingAndGlyphs">Waldo</text>
<text y="669.44" font-size="21.0"><tspan x="261.62" textLength="8.64" lengthAdjust="spacingAndGlyphs">1</tspan><tspan x="269.58" textLength="11.37" lengthAdjust="spacingAndGlyphs">4</tspan><tspan x="281.06" textLength="11.03" lengthAdjust="spacingAndGlyphs">5</tspan></text>
<text y="669.44" font-size="21.0"><tspan x="379.72" textLength="8.64" lengthAdjust="spacingAndGlyphs">1</tspan><tspan x="387.68" textLength="11.37" lengthAdjust="spacingAndGlyphs">4</tspan><tspan x="399.48" textLength="11.37" lengthAdjust="spacingAndGlyphs">4</tspan></text>
<text y="669.44" font-size="21.0"><tspan x="477.65" textLength="7.50" lengthAdjust="spacingAndGlyphs">-</tspan><tspan x="484.68" textLength="13.84" lengthAdjust="spacingAndGlyphs">0</tspan><tspan x="498.13" textLength="5.83" lengthAdjust="spacingAndGlyphs">.</tspan><tspan x="503.46" textLength="11.93" lengthAdjust="spacingAndGlyphs">6</tspan><tspan x="514.95" textLength="11.92" lengthAdjust="spacingAndGlyphs">9</tspan><tspan x="526.70" textLength="16.20" lengthAdjust="spacingAndGlyphs">%</tspan></text>
<text y="669.44" font-size="21.0"><tspan x="607.14" textLength="10.82" lengthAdjust="spacingAndGlyphs">$</tspan><tspan x="616.52" textLength="8.64" lengthAdjust="spacingAndGlyphs">1</tspan><tspan x="624.16" textLength="11.03" lengthAdjust="spacingAndGlyphs">5</tspan><tspan x="634.88" textLength="13.84" lengthAdjust="spacingAndGlyphs">0</tspan><tspan x="648.23" textLength="5.83" lengthAdjust="spacingAndGlyphs">,</tspan><tspan x="653.58" textLength="13.84" lengthAdjust="spacingAndGlyphs">0</tspan><tspan x="666.98" textLength="13.84" lengthAdjust="spacingAndGlyphs">0</tspan><tspan x="680.38" textLength="13.84" lengthAdjust="spacingAndGlyphs">0</tspan></text>
<text y="669.44" font-size="21.0"><tspan x="761.84" textLength="10.82" lengthAdjust="spacingAndGlyphs">$</tspan><tspan x="771.22" textLength="8.64" lengthAdjust="spacingAndGlyphs">1</tspan><tspan x="778.56" textLength="11.93" lengthAdjust="spacingAndGlyphs">6</tspan><tspan x="790.27" textLength="11.38" lengthAdjust="spacingAndGlyphs">3</tspan><tspan x="801.23" textLength="5.83" lengthAdjust="spacingAndGlyphs">,</tspan><tspan x="806.51" textLength="11.48" lengthAdjust="spacingAndGlyphs">2</tspan><tspan x="817.66" textLength="11.03" lengthAdjust="spacingAndGlyphs">5</tspan><tspan x="828.38" textLength="13.84" lengthAdjust="spacingAndGlyphs">0</tspan></text>
<text y="669.44" font-size="21.0"><tspan x="883.73" textLength="11.73" lengthAdjust="spacingAndGlyphs">8</tspan><tspan x="895.13" textLength="5.83" lengthAdjust="spacingAndGlyphs">.</tspan><tspan x="900.63" textLength="11.73" lengthAdjust="spacingAndGlyphs">8</tspan><tspan x="912.17" textLength="11.38" lengthAdjust="spacingAndGlyphs">3</tspan><tspan x="923.50" textLength="16.20" lengthAdjust="spacingAndGlyphs">%</tspan></text>
<text x="77.90" y="696.21" font-size="20.8" font-weight="700" stroke="#161616" stroke-width="0.45" textLength="113.86" lengthAdjust="spacingAndGlyphs">Washington</text>
<text y="695.51" font-size="21.0"><tspan x="260.02" textLength="8.64" lengthAdjust="spacingAndGlyphs">1</tspan><tspan x="267.48" textLength="13.84" lengthAdjust="spacingAndGlyphs">0</tspan><tspan x="281.06" textLength="11.03" lengthAdjust="spacingAndGlyphs">5</tspan></text>
<text y="695.51" font-size="21.0"><tspan x="387.95" textLength="11.92" lengthAdjust="spacingAndGlyphs">9</tspan><tspan x="399.26" textLength="11.93" lengthAdjust="spacingAndGlyphs">6</tspan></text>
<text y="695.51" font-size="21.0"><tspan x="481.35" textLength="7.50" lengthAdjust="spacingAndGlyphs">-</tspan><tspan x="488.43" textLength="11.73" lengthAdjust="spacingAndGlyphs">8</tspan><tspan x="499.83" textLength="5.83" lengthAdjust="spacingAndGlyphs">.</tspan><tspan x="505.46" textLength="11.03" lengthAdjust="spacingAndGlyphs">5</tspan><tspan x="516.17" textLength="10.64" lengthAdjust="spacingAndGlyphs">7</tspan><tspan x="526.70" textLength="16.20" lengthAdjust="spacingAndGlyphs">%</tspan></text>
<text y="695.51" font-size="21.0"><tspan x="607.14" textLength="10.82" lengthAdjust="spacingAndGlyphs">$</tspan><tspan x="616.52" textLength="8.64" lengthAdjust="spacingAndGlyphs">1</tspan><tspan x="623.98" textLength="13.84" lengthAdjust="spacingAndGlyphs">0</tspan><tspan x="637.38" textLength="13.84" lengthAdjust="spacingAndGlyphs">0</tspan><tspan x="650.73" textLength="5.83" lengthAdjust="spacingAndGlyphs">,</tspan><tspan x="656.26" textLength="11.03" lengthAdjust="spacingAndGlyphs">5</tspan><tspan x="666.98" textLength="13.84" lengthAdjust="spacingAndGlyphs">0</tspan><tspan x="680.38" textLength="13.84" lengthAdjust="spacingAndGlyphs">0</tspan></text>
<text y="695.51" font-size="21.0"><tspan x="766.84" textLength="10.82" lengthAdjust="spacingAndGlyphs">$</tspan><tspan x="776.22" textLength="8.64" lengthAdjust="spacingAndGlyphs">1</tspan><tspan x="782.52" textLength="8.64" lengthAdjust="spacingAndGlyphs">1</tspan><tspan x="788.82" textLength="8.64" lengthAdjust="spacingAndGlyphs">1</tspan><tspan x="796.23" textLength="5.83" lengthAdjust="spacingAndGlyphs">,</tspan><tspan x="801.58" textLength="13.84" lengthAdjust="spacingAndGlyphs">0</tspan><tspan x="814.98" textLength="13.84" lengthAdjust="spacingAndGlyphs">0</tspan><tspan x="828.38" textLength="13.84" lengthAdjust="spacingAndGlyphs">0</tspan></text>
<text y="695.51" font-size="21.0"><tspan x="874.12" textLength="8.64" lengthAdjust="spacingAndGlyphs">1</tspan><tspan x="881.58" textLength="13.84" lengthAdjust="spacingAndGlyphs">0</tspan><tspan x="895.03" textLength="5.83" lengthAdjust="spacingAndGlyphs">.</tspan><tspan x="900.98" textLength="11.37" lengthAdjust="spacingAndGlyphs">4</tspan><tspan x="912.46" textLength="11.03" lengthAdjust="spacingAndGlyphs">5</tspan><tspan x="923.50" textLength="16.20" lengthAdjust="spacingAndGlyphs">%</tspan></text>
<text x="77.90" y="722.28" font-size="20.8" font-weight="700" stroke="#161616" stroke-width="0.45" textLength="42.25" lengthAdjust="spacingAndGlyphs">York</text>
<text y="721.58" font-size="21.0"><tspan x="258.97" textLength="10.64" lengthAdjust="spacingAndGlyphs">7</tspan><tspan x="269.06" textLength="11.93" lengthAdjust="spacingAndGlyphs">6</tspan><tspan x="280.77" textLength="11.38" lengthAdjust="spacingAndGlyphs">3</tspan></text>
<text y="721.58" font-size="21.0"><tspan x="376.83" textLength="11.73" lengthAdjust="spacingAndGlyphs">8</tspan><tspan x="388.37" textLength="11.38" lengthAdjust="spacingAndGlyphs">3</tspan><tspan x="399.43" textLength="11.73" lengthAdjust="spacingAndGlyphs">8</tspan></text>
<text y="721.58" font-size="21.0"><tspan x="486.85" textLength="11.92" lengthAdjust="spacingAndGlyphs">9</tspan><tspan x="498.33" textLength="5.83" lengthAdjust="spacingAndGlyphs">.</tspan><tspan x="503.83" textLength="11.73" lengthAdjust="spacingAndGlyphs">8</tspan><tspan x="515.37" textLength="11.38" lengthAdjust="spacingAndGlyphs">3</tspan><tspan x="526.70" textLength="16.20" lengthAdjust="spacingAndGlyphs">%</tspan></text>
<text y="721.58" font-size="21.0"><tspan x="604.74" textLength="10.82" lengthAdjust="spacingAndGlyphs">$</tspan><tspan x="615.21" textLength="11.48" lengthAdjust="spacingAndGlyphs">2</tspan><tspan x="626.37" textLength="11.38" lengthAdjust="spacingAndGlyphs">3</tspan><tspan x="637.56" textLength="11.03" lengthAdjust="spacingAndGlyphs">5</tspan><tspan x="648.23" textLength="5.83" lengthAdjust="spacingAndGlyphs">,</tspan><tspan x="653.58" textLength="13.84" lengthAdjust="spacingAndGlyphs">0</tspan><tspan x="666.98" textLength="13.84" lengthAdjust="spacingAndGlyphs">0</tspan><tspan x="680.38" textLength="13.84" lengthAdjust="spacingAndGlyphs">0</tspan></text>
<text y="721.58" font-size="21.0"><tspan x="750.54" textLength="10.82" lengthAdjust="spacingAndGlyphs">$</tspan><tspan x="761.01" textLength="11.48" lengthAdjust="spacingAndGlyphs">2</tspan><tspan x="772.16" textLength="11.03" lengthAdjust="spacingAndGlyphs">5</tspan><tspan x="782.88" textLength="13.84" lengthAdjust="spacingAndGlyphs">0</tspan><tspan x="796.23" textLength="5.83" lengthAdjust="spacingAndGlyphs">,</tspan><tspan x="801.58" textLength="13.84" lengthAdjust="spacingAndGlyphs">0</tspan><tspan x="814.98" textLength="13.84" lengthAdjust="spacingAndGlyphs">0</tspan><tspan x="828.38" textLength="13.84" lengthAdjust="spacingAndGlyphs">0</tspan></text>
<text y="721.58" font-size="21.0"><tspan x="883.56" textLength="11.93" lengthAdjust="spacingAndGlyphs">6</tspan><tspan x="895.13" textLength="5.83" lengthAdjust="spacingAndGlyphs">.</tspan><tspan x="900.77" textLength="11.38" lengthAdjust="spacingAndGlyphs">3</tspan><tspan x="911.83" textLength="11.73" lengthAdjust="spacingAndGlyphs">8</tspan><tspan x="923.50" textLength="16.20" lengthAdjust="spacingAndGlyphs">%</tspan></text>
<text x="60.00" y="749.30" font-size="12.9" fill="#333" textLength="228.00" lengthAdjust="spacingAndGlyphs">SOURCE: Maine Association of Realtors</text>
<text y="749.30" font-size="12.9" fill="#333"><tspan x="732.00" textLength="110.10" lengthAdjust="spacingAndGlyphs">STAFF GRAPHIC</tspan> <tspan x="845.70">|</tspan> <tspan x="853.80" textLength="99.70" lengthAdjust="spacingAndGlyphs">MICHAEL FISHER</tspan></text>
</svg>
</body>
</html>
